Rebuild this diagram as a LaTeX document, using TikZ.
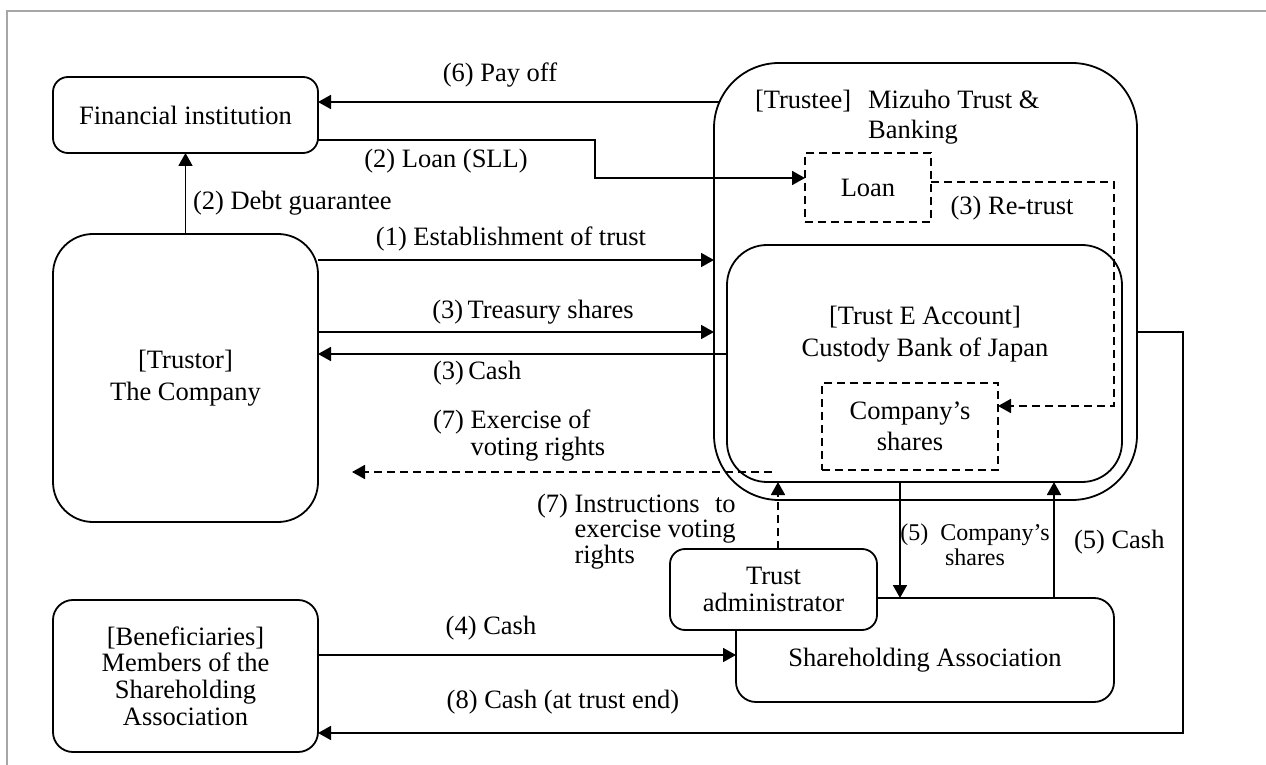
\documentclass[tikz,border=0pt]{standalone}
\usepackage{fontspec}
\setmainfont{Liberation Serif}
\usetikzlibrary{arrows.meta,calc}
\newlength\instw
\begin{document}
\begin{tikzpicture}[x=0.5pt,y=-0.5pt,
  every node/.style={inner sep=0pt, outer sep=0pt},
  box/.style={draw, line width=0.9pt, fill=white},
  dbox/.style={draw, line width=0.9pt, dash pattern=on 4pt off 2.5pt},
  arr/.style={line width=0.9pt, -{Triangle[length=6.5pt,width=7pt]}},
  darr/.style={arr, dash pattern=on 4pt off 2.5pt},
  txt/.style={font=\fontsize{13.25pt}{15pt}\selectfont, align=center},
]
\useasboundingbox (0,0) rectangle (1266,765);
\draw[gray!70, line width=0.6pt] (1266,11) -- (7,11) -- (7,765);

% boxes
\node[box, rounded corners=7.5pt, minimum width=132.5pt, minimum height=38pt, txt] (FI) at (185.5,115) {Financial institution};
\node[box, rounded corners=20pt, minimum width=132.5pt, minimum height=144pt, font=\fontsize{13.25pt}{16pt}\selectfont, align=center] (Co) at (185.5,378) {[Trustor]\\The Company};
\node[box, rounded corners=10pt, minimum width=132.5pt, minimum height=76pt, font=\fontsize{13.25pt}{13.3pt}\selectfont, align=center] (Ben) at (185.5,676) {[Beneficiaries]\\Members of the\\Shareholding\\Association};
\node[box, rounded corners=32.5pt, minimum width=211.5pt, minimum height=218.5pt] (Tr) at (925.5,281.5) {};
\node[box, rounded corners=20pt, minimum width=197.5pt, minimum height=118.5pt] (E) at (924.5,363.5) {};
\node[dbox, minimum width=63pt, minimum height=34.5pt, txt] (Loan) at (868,187.5) {Loan};
\node[dbox, minimum width=88pt, minimum height=43.5pt, font=\fontsize{13.25pt}{15.5pt}\selectfont, align=center] (CS) at (910,426.5) {Company’s\\shares};
\node[box, rounded corners=10pt, minimum width=189pt, minimum height=52pt] (SA) at (925,650) {};
\node[txt] (SAt) at (925,660) {Shareholding Association};
\node[box, rounded corners=7.5pt, minimum width=103.5pt, minimum height=40.5pt, font=\fontsize{13.25pt}{13.5pt}\selectfont, align=center] (TA) at (773.5,589.5) {Trust\\administrator};

% box texts
\node[font=\fontsize{13.25pt}{15pt}\selectfont, anchor=west] (TrT) at (755,118) {\begin{tabular}{@{}l@{\hspace{8.5pt}}l@{}}[Trustee]&Mizuho Trust \&\\&Banking\end{tabular}};
\node[font=\fontsize{13.25pt}{16pt}\selectfont, align=center] (Et) at (925,334) {[Trust E Account]\\Custody Bank of Japan};

% connectors
\coordinate (p6) at (719,102);
\draw[arr] (p6) -- (p6 -| FI.east);
\coordinate (l2a) at (595,140);
\coordinate (l2b) at (595,178);
\draw[arr] (l2a -| FI.east) -- (l2a) -- (l2b) -- (l2b -| Loan.west);
\draw[arr] (Co.north) -- (FI.south);
\coordinate (e1) at (0,260);
\draw[arr] (e1 -| Co.east) -- (e1 -| Tr.west);
\coordinate (t3) at (0,332);
\draw[arr] (t3 -| Co.east) -- (t3 -| Tr.west);
\coordinate (c3) at (0,354);
\draw[arr] (c3 -| E.west) -- (c3 -| Co.east);
\coordinate (r3a) at (1114,182);
\coordinate (r3b) at (1114,406);
\draw[darr] (r3a -| Loan.east) -- (r3a) -- (r3b) -- (r3b -| CS.east);
\coordinate (v7) at (772,472);
\coordinate (v7e) at (352,472);
\draw[darr] (v7) -- (v7e);
\coordinate (i7) at (778,482);
\draw[darr] (i7 |- TA.north) -- (i7);
\coordinate (s5) at (900,482);
\draw[arr] (s5) -- (s5 |- SA.north);
\coordinate (k5) at (1054,482);
\draw[arr] (k5 |- SA.north) -- (k5);
\coordinate (c4) at (0,655);
\draw[arr] (c4 -| Ben.east) -- (c4 -| SA.west);
\coordinate (c8a) at (1183,332);
\coordinate (c8b) at (1183,733);
\draw[arr] (c8a -| Tr.east) -- (c8a) -- (c8b) -- (c8b -| Ben.east);

% labels
\node[txt] (L6) at (500,75) {(6) Pay off};
\node[txt] (L2) at (446,161) {(2) Loan (SLL)};
\node[txt, anchor=west] (L2d) at (193,203) {(2) Debt guarantee};
\node[txt] (L1) at (511,239) {(1) Establishment of trust};
\node[txt] (L3t) at (533,312) {(3)\,Treasury shares};
\node[txt, anchor=west] (L3c) at (433,373) {(3)\,Cash};
\node[font=\fontsize{13.25pt}{13.5pt}\selectfont, anchor=west] (L7e) at (433,436.5) {\begin{tabular}{@{}l@{ }l@{}}(7)&Exercise of\\&voting rights\end{tabular}};
\node[font=\fontsize{13.25pt}{12.75pt}\selectfont, anchor=west] (L7i) at (537,532.5) {\settowidth{\instw}{exercise voting}\begin{tabular}{@{}l@{ }l@{}}(7)&\makebox[\instw][l]{Instructions\hfill to}\\&exercise voting\\&rights\end{tabular}};
\node[txt] (L3r) at (1012,208) {(3) Re-trust};
\node[font=\fontsize{12pt}{12.5pt}\selectfont, align=center] (L5s) at (975,545) {(5)\ \ Company’s\\shares};
\node[txt, anchor=west] (L5c) at (1074,542) {(5) Cash};
\node[txt] (L4) at (491,628) {(4) Cash};
\node[txt] (L8) at (563,702) {(8) Cash (at trust end)};
\end{tikzpicture}
\end{document}
